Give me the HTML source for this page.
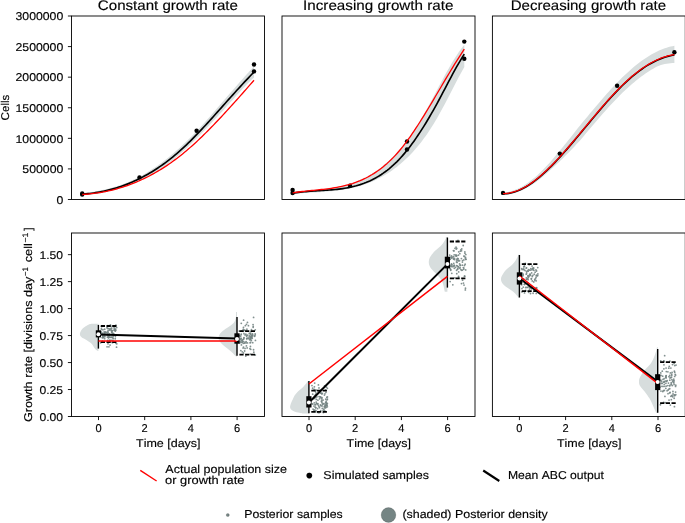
<!DOCTYPE html>
<html><head><meta charset="utf-8"><title>Growth rate ABC figure</title>
<style>
html,body{margin:0;padding:0;background:#fff;}
body{width:685px;height:523px;overflow:hidden;font-family:"Liberation Sans", sans-serif;}
svg{display:block;text-rendering:geometricPrecision;}
</style></head><body>
<svg width="685" height="523" viewBox="0 0 685 523">
<rect width="685" height="523" fill="#fff"/>
<polygon points="82.2,192.96 84.13,192.8 86.06,192.61 87.99,192.4 89.92,192.17 91.85,191.91 93.78,191.63 95.71,191.32 97.64,190.98 99.57,190.62 101.5,190.24 103.43,189.83 105.36,189.39 107.29,188.92 109.22,188.43 111.16,187.91 113.09,187.36 115.02,186.78 116.95,186.18 118.88,185.54 120.81,184.88 122.74,184.18 124.67,183.46 126.6,182.7 128.53,181.92 130.46,181.1 132.39,180.25 134.32,179.37 136.25,178.46 138.18,177.52 140.11,176.51 142.04,175.45 143.97,174.35 145.9,173.22 147.83,172.06 149.76,170.86 151.69,169.62 153.62,168.36 155.55,167.05 157.48,165.71 159.41,164.34 161.34,162.93 163.27,161.48 165.2,159.99 167.13,158.47 169.07,156.91 171,155.32 172.93,153.68 174.86,152.01 176.79,150.34 178.72,148.64 180.65,146.9 182.58,145.12 184.51,143.31 186.44,141.46 188.37,139.57 190.3,137.66 192.23,135.71 194.16,133.73 196.09,131.73 198.02,129.71 199.95,127.66 201.88,125.54 203.81,123.4 205.74,121.25 207.67,119.07 209.6,116.89 211.53,114.69 213.46,112.48 215.39,110.26 217.32,108.03 219.25,105.8 221.18,103.57 223.11,101.33 225.04,99.09 226.98,96.84 228.91,94.6 230.84,92.36 232.77,90.13 234.7,87.91 236.63,85.7 238.56,83.5 240.49,81.31 242.42,79.14 244.35,76.98 246.28,74.81 248.21,72.64 250.14,70.5 252.07,68.38 254,66.28 254,77.48 252.07,79.32 250.14,81.18 248.21,83.07 246.28,84.98 244.35,86.95 242.42,89.03 240.49,91.13 238.56,93.24 236.63,95.36 234.7,97.5 232.77,99.64 230.84,101.8 228.91,103.96 226.98,106.12 225.04,108.29 223.11,110.38 221.18,112.48 219.25,114.57 217.32,116.65 215.39,118.73 213.46,120.8 211.53,122.87 209.6,124.92 207.67,126.96 205.74,128.98 203.81,130.99 201.88,132.98 199.95,134.95 198.02,136.93 196.09,138.89 194.16,140.82 192.23,142.73 190.3,144.61 188.37,146.45 186.44,148.27 184.51,150.05 182.58,151.8 180.65,153.51 178.72,155.18 176.79,156.81 174.86,158.4 172.93,159.92 171,161.4 169.07,162.85 167.13,164.26 165.2,165.63 163.27,166.97 161.34,168.26 159.41,169.53 157.48,170.75 155.55,171.94 153.62,173.09 151.69,174.21 149.76,175.29 147.83,176.34 145.9,177.36 143.97,178.34 142.04,179.29 140.11,180.2 138.18,181.1 136.25,182.01 134.32,182.88 132.39,183.71 130.46,184.52 128.53,185.3 126.6,186.04 124.67,186.75 122.74,187.44 120.81,188.09 118.88,188.71 116.95,189.31 115.02,189.87 113.09,190.41 111.16,190.92 109.22,191.4 107.29,191.85 105.36,192.28 103.43,192.68 101.5,193.05 99.57,193.39 97.64,193.71 95.71,194 93.78,194.27 91.85,194.51 89.92,194.73 87.99,194.92 86.06,195.09 84.13,195.24 82.2,195.36" fill="#d7dddd"/>
<circle cx="82.2" cy="193.4" r="2.2" fill="#000"/>
<circle cx="82.2" cy="194.6" r="2.2" fill="#000"/>
<circle cx="139.5" cy="177.4" r="2.2" fill="#000"/>
<circle cx="196.6" cy="130.7" r="2.2" fill="#000"/>
<circle cx="254" cy="64.5" r="2.2" fill="#000"/>
<circle cx="254" cy="71.4" r="2.2" fill="#000"/>
<polyline points="82.2,194.16 84.13,194.02 86.06,193.85 87.99,193.66 89.92,193.45 91.85,193.21 93.78,192.95 95.71,192.66 97.64,192.35 99.57,192.01 101.5,191.64 103.43,191.25 105.36,190.83 107.29,190.39 109.22,189.91 111.16,189.41 113.09,188.89 115.02,188.33 116.95,187.74 118.88,187.13 120.81,186.48 122.74,185.81 124.67,185.11 126.6,184.37 128.53,183.61 130.46,182.81 132.39,181.98 134.32,181.12 136.25,180.23 138.18,179.31 140.11,178.36 142.04,177.37 143.97,176.34 145.9,175.29 147.83,174.2 149.76,173.08 151.69,171.92 153.62,170.72 155.55,169.5 157.48,168.23 159.41,166.93 161.34,165.6 163.27,164.22 165.2,162.81 167.13,161.37 169.07,159.88 171,158.36 172.93,156.8 174.86,155.2 176.79,153.56 178.72,151.89 180.65,150.17 182.58,148.41 184.51,146.62 186.44,144.79 188.37,142.93 190.3,141.04 192.23,139.12 194.16,137.16 196.09,135.19 198.02,133.18 199.95,131.15 201.88,129.11 203.81,127.04 205.74,124.95 207.67,122.85 209.6,120.73 211.53,118.6 213.46,116.46 215.39,114.32 217.32,112.16 219.25,110 221.18,107.83 223.11,105.66 225.04,103.49 226.98,101.32 228.91,99.16 230.84,97 232.77,94.84 234.7,92.7 236.63,90.56 238.56,88.44 240.49,86.33 242.42,84.23 244.35,82.15 246.28,80.1 248.21,78.06 250.14,76.04 252.07,74.05 254,72.08" fill="none" stroke="#000" stroke-width="1.65" stroke-linejoin="round"/>
<polyline points="82.2,194.51 84.13,194.39 86.06,194.24 87.99,194.08 89.92,193.89 91.85,193.67 93.78,193.44 95.71,193.18 97.64,192.9 99.57,192.6 101.5,192.27 103.43,191.92 105.36,191.55 107.29,191.15 109.22,190.73 111.16,190.28 113.09,189.81 115.02,189.31 116.95,188.78 118.88,188.23 120.81,187.66 122.74,187.06 124.67,186.43 126.6,185.77 128.53,185.09 130.46,184.38 132.39,183.64 134.32,182.88 136.25,182.08 138.18,181.26 140.11,180.41 142.04,179.53 143.97,178.62 145.9,177.68 147.83,176.71 149.76,175.71 151.69,174.69 153.62,173.63 155.55,172.54 157.48,171.42 159.41,170.26 161.34,169.08 163.27,167.86 165.2,166.62 167.13,165.34 169.07,164.02 171,162.68 172.93,161.3 174.86,159.89 176.79,158.44 178.72,156.96 180.65,155.45 182.58,153.9 184.51,152.32 186.44,150.71 188.37,149.06 190.3,147.38 192.23,145.67 194.16,143.92 196.09,142.15 198.02,140.36 199.95,138.53 201.88,136.68 203.81,134.8 205.74,132.9 207.67,130.98 209.6,129.03 211.53,127.07 213.46,125.08 215.39,123.07 217.32,121.04 219.25,119 221.18,116.94 223.11,114.87 225.04,112.77 226.98,110.67 228.91,108.55 230.84,106.42 232.77,104.29 234.7,102.14 236.63,99.98 238.56,97.81 240.49,95.64 242.42,93.46 244.35,91.27 246.28,89.08 248.21,86.89 250.14,84.69 252.07,82.5 254,80.3" fill="none" stroke="#ff0000" stroke-width="1.3" stroke-linejoin="round"/>
<polygon points="292.6,192.29 294.53,192.1 296.46,191.92 298.39,191.75 300.32,191.59 302.25,191.43 304.18,191.27 306.1,191.12 308.03,190.96 309.96,190.8 311.89,190.64 313.82,190.46 315.75,190.28 317.68,190.1 319.61,189.9 321.54,189.68 323.47,189.45 325.4,189.21 327.33,188.95 329.26,188.66 331.18,188.36 333.11,188.03 335.04,187.67 336.97,187.29 338.9,186.88 340.83,186.45 342.76,185.97 344.69,185.47 346.62,184.93 348.55,184.35 350.48,183.73 352.41,183.07 354.33,182.37 356.26,181.63 358.19,180.84 360.12,180 362.05,179.12 363.98,178.18 365.91,177.19 367.84,176.14 369.77,175.04 371.7,173.88 373.63,172.67 375.56,171.39 377.49,170.05 379.41,168.64 381.34,167.16 383.27,165.62 385.2,164.01 387.13,162.33 389.06,160.57 390.99,158.74 392.92,156.83 394.85,154.85 396.78,152.78 398.71,150.63 400.64,148.4 402.57,146.08 404.49,143.68 406.42,141.19 408.35,138.6 410.28,135.93 412.21,133.16 414.14,130.29 416.07,127.33 418,124.27 419.93,121.11 421.86,117.84 423.79,114.49 425.72,111.06 427.64,107.56 429.57,104.01 431.5,100.41 433.43,96.79 435.36,93.15 437.29,89.5 439.22,85.86 441.15,82.24 443.08,78.65 445.01,75.1 446.94,71.61 448.87,68.19 450.8,64.85 452.72,61.6 454.65,58.45 456.58,55.42 458.51,52.52 460.44,49.76 462.37,47.16 464.3,44.72 464.3,66.98 462.37,70.43 460.44,73.97 458.51,77.57 456.58,81.24 454.65,84.95 452.72,88.69 450.8,92.45 448.87,96.2 446.94,99.93 445.01,103.63 443.08,107.27 441.15,110.86 439.22,114.37 437.29,117.78 435.36,121.08 433.43,124.27 431.5,127.35 429.57,130.32 427.64,133.19 425.72,135.95 423.79,138.62 421.86,141.18 419.93,143.65 418,146.03 416.07,148.32 414.14,150.52 412.21,152.64 410.28,154.68 408.35,156.64 406.42,158.52 404.49,160.33 402.57,162.07 400.64,163.74 398.71,165.34 396.78,166.88 394.85,168.36 392.92,169.78 390.99,171.13 389.06,172.43 387.13,173.67 385.2,174.86 383.27,175.99 381.34,177.07 379.41,178.09 377.49,179.07 375.56,180 373.63,180.88 371.7,181.71 369.77,182.51 367.84,183.25 365.91,183.96 363.98,184.63 362.05,185.25 360.12,185.84 358.19,186.4 356.26,186.92 354.33,187.41 352.41,187.86 350.48,188.29 348.55,188.68 346.62,189.05 344.69,189.39 342.76,189.71 340.83,190.01 338.9,190.28 336.97,190.53 335.04,190.77 333.11,190.99 331.18,191.19 329.26,191.37 327.33,191.54 325.4,191.71 323.47,191.86 321.54,192 319.61,192.13 317.68,192.26 315.75,192.38 313.82,192.5 311.89,192.62 309.96,192.74 308.03,192.85 306.1,192.98 304.18,193.1 302.25,193.23 300.32,193.36 298.39,193.51 296.46,193.66 294.53,193.82 292.6,194" fill="#d7dddd"/>
<circle cx="292.6" cy="190" r="2.2" fill="#000"/>
<circle cx="292.6" cy="193" r="2.2" fill="#000"/>
<circle cx="350" cy="185.7" r="2.2" fill="#000"/>
<circle cx="407" cy="141.5" r="2.2" fill="#000"/>
<circle cx="407" cy="149.5" r="2.2" fill="#000"/>
<circle cx="464.3" cy="41.6" r="2.2" fill="#000"/>
<circle cx="464.3" cy="58.7" r="2.2" fill="#000"/>
<polyline points="292.6,193.24 294.53,192.93 296.46,192.65 298.39,192.4 300.32,192.17 302.25,191.96 304.18,191.77 306.1,191.59 308.03,191.43 309.96,191.29 311.89,191.15 313.82,191.02 315.75,190.9 317.68,190.78 319.61,190.66 321.54,190.55 323.47,190.43 325.4,190.3 327.33,190.17 329.26,190.02 331.18,189.87 333.11,189.7 335.04,189.51 336.97,189.31 338.9,189.09 340.83,188.84 342.76,188.57 344.69,188.27 346.62,187.94 348.55,187.58 350.48,187.18 352.41,186.75 354.33,186.28 356.26,185.78 358.19,185.22 360.12,184.63 362.05,183.98 363.98,183.29 365.91,182.54 367.84,181.74 369.77,180.89 371.7,179.98 373.63,179 375.56,177.97 377.49,176.86 379.41,175.7 381.34,174.46 383.27,173.15 385.2,171.77 387.13,170.31 389.06,168.77 390.99,167.15 392.92,165.45 394.85,163.67 396.78,161.8 398.71,159.84 400.64,157.79 402.57,155.64 404.49,153.4 406.42,151.08 408.35,148.66 410.28,146.16 412.21,143.57 414.14,140.9 416.07,138.15 418,135.32 419.93,132.41 421.86,129.42 423.79,126.37 425.72,123.24 427.64,120.04 429.57,116.78 431.5,113.45 433.43,110.06 435.36,106.6 437.29,103.09 439.22,99.51 441.15,95.89 443.08,92.23 445.01,88.55 446.94,84.87 448.87,81.2 450.8,77.55 452.72,73.95 454.65,70.41 456.58,66.94 458.51,63.57 460.44,60.3 462.37,57.15 464.3,54.14" fill="none" stroke="#000" stroke-width="1.65" stroke-linejoin="round"/>
<polyline points="292.6,192.82 294.53,192.53 296.46,192.25 298.39,191.99 300.32,191.75 302.25,191.52 304.18,191.3 306.1,191.09 308.03,190.89 309.96,190.69 311.89,190.5 313.82,190.31 315.75,190.11 317.68,189.92 319.61,189.71 321.54,189.51 323.47,189.29 325.4,189.06 327.33,188.82 329.26,188.56 331.18,188.28 333.11,187.99 335.04,187.67 336.97,187.33 338.9,186.97 340.83,186.57 342.76,186.15 344.69,185.69 346.62,185.2 348.55,184.68 350.48,184.11 352.41,183.51 354.33,182.86 356.26,182.17 358.19,181.43 360.12,180.65 362.05,179.81 363.98,178.92 365.91,177.98 367.84,176.98 369.77,175.92 371.7,174.8 373.63,173.61 375.56,172.36 377.49,171.05 379.41,169.66 381.34,168.21 383.27,166.68 385.2,165.07 387.13,163.39 389.06,161.62 390.99,159.78 392.92,157.85 394.85,155.84 396.78,153.74 398.71,151.55 400.64,149.26 402.57,146.89 404.49,144.42 406.42,141.86 408.35,139.23 410.28,136.52 412.21,133.74 414.14,130.89 416.07,127.98 418,125.01 419.93,121.99 421.86,118.93 423.79,115.82 425.72,112.67 427.64,109.49 429.57,106.28 431.5,103.05 433.43,99.8 435.36,96.54 437.29,93.27 439.22,89.99 441.15,86.71 443.08,83.44 445.01,80.18 446.94,76.94 448.87,73.71 450.8,70.51 452.72,67.34 454.65,64.2 456.58,61.1 458.51,58.04 460.44,55.04 462.37,52.09 464.3,49.19" fill="none" stroke="#ff0000" stroke-width="1.3" stroke-linejoin="round"/>
<polygon points="503,192.54 504.93,192.4 506.85,192.15 508.78,191.79 510.7,191.33 512.63,190.77 514.56,190.12 516.48,189.37 518.41,188.52 520.33,187.58 522.26,186.5 524.18,185.33 526.11,184.08 528.04,182.76 529.96,181.35 531.89,179.87 533.81,178.33 535.74,176.68 537.67,174.92 539.59,173.1 541.52,171.21 543.44,169.27 545.37,167.28 547.29,165.23 549.22,163.13 551.15,160.95 553.07,158.7 555,156.4 556.92,154.07 558.85,151.76 560.78,149.48 562.7,147.17 564.63,144.83 566.55,142.46 568.48,140.07 570.4,137.66 572.33,135.23 574.26,132.79 576.18,130.33 578.11,127.86 580.03,125.39 581.96,123.08 583.89,120.77 585.81,118.46 587.74,116.16 589.66,113.85 591.59,111.55 593.51,109.26 595.44,106.98 597.37,104.72 599.29,102.47 601.22,100.22 603.14,98 605.07,95.8 607,93.62 608.92,91.47 610.85,89.34 612.77,87.25 614.7,85.19 616.62,83.16 618.55,81.18 620.48,79.23 622.4,77.32 624.33,75.46 626.25,73.65 628.18,71.88 630.11,70.16 632.03,68.48 633.96,66.84 635.88,65.26 637.81,63.74 639.73,62.27 641.66,60.86 643.59,59.51 645.51,58.2 647.44,56.94 649.36,55.74 651.29,54.59 653.22,53.51 655.14,52.48 657.07,51.52 658.99,50.62 660.92,49.79 662.84,49.02 664.77,48.31 666.7,47.66 668.62,47.08 670.55,46.57 672.47,46.13 674.4,45.75 674.4,62.95 672.47,63.04 670.55,63.18 668.62,63.4 666.7,63.69 664.77,64.04 662.84,64.45 660.92,64.93 658.99,65.65 657.07,66.6 655.14,67.61 653.22,68.69 651.29,69.82 649.36,71.02 647.44,72.27 645.51,73.59 643.59,74.93 641.66,76.31 639.73,77.74 637.81,79.24 635.88,80.79 633.96,82.39 632.03,84.05 630.11,85.76 628.18,87.46 626.25,89.21 624.33,91.01 622.4,92.85 620.48,94.73 618.55,96.66 616.62,98.63 614.7,100.64 612.77,102.68 610.85,104.75 608.92,106.85 607,108.99 605.07,111.15 603.14,113.33 601.22,115.54 599.29,117.76 597.37,119.99 595.44,122.24 593.51,124.5 591.59,126.77 589.66,129.05 587.74,131.33 585.81,133.62 583.89,135.91 581.96,138.2 580.03,140.49 578.11,142.55 576.18,144.59 574.26,146.63 572.33,148.65 570.4,150.65 568.48,152.64 566.55,154.61 564.63,156.55 562.7,158.47 560.78,160.36 558.85,162.21 556.92,164.04 555,165.82 553.07,167.57 551.15,169.27 549.22,170.99 547.29,172.76 545.37,174.47 543.44,176.14 541.52,177.74 539.59,179.29 537.67,180.78 535.74,182.21 533.81,183.57 531.89,184.86 529.96,186.08 528.04,187.23 526.11,188.3 524.18,189.29 522.26,190.2 520.33,191.03 518.41,191.79 516.48,192.48 514.56,193.07 512.63,193.57 510.7,193.97 508.78,194.27 506.85,194.46 504.93,194.56 503,194.54" fill="#d7dddd"/>
<circle cx="503" cy="192.9" r="2.2" fill="#000"/>
<circle cx="559.8" cy="153.6" r="2.2" fill="#000"/>
<circle cx="617.1" cy="85.8" r="2.2" fill="#000"/>
<circle cx="674.4" cy="52.2" r="2.2" fill="#000"/>
<polyline points="503,193.84 504.93,193.79 506.85,193.63 508.78,193.36 510.7,193 512.63,192.53 514.56,191.97 516.48,191.31 518.41,190.56 520.33,189.72 522.26,188.8 524.18,187.79 526.11,186.7 528.04,185.53 529.96,184.28 531.89,182.96 533.81,181.57 535.74,180.11 537.67,178.59 539.59,177 541.52,175.35 543.44,173.64 545.37,171.88 547.29,170.07 549.22,168.2 551.15,166.29 553.07,164.33 555,162.33 556.92,160.3 558.85,158.22 560.78,156.11 562.7,153.97 564.63,151.8 566.55,149.6 568.48,147.38 570.4,145.14 572.33,142.87 574.26,140.6 576.18,138.31 578.11,136 580.03,133.69 581.96,131.38 583.89,129.06 585.81,126.74 587.74,124.42 589.66,122.11 591.59,119.8 593.51,117.5 595.44,115.21 597.37,112.93 599.29,110.67 601.22,108.42 603.14,106.19 605.07,103.99 607,101.81 608.92,99.65 610.85,97.53 612.77,95.44 614.7,93.37 616.62,91.35 618.55,89.36 620.48,87.41 622.4,85.51 624.33,83.65 626.25,81.83 628.18,80.07 630.11,78.36 632.03,76.7 633.96,75.09 635.88,73.54 637.81,72.05 639.73,70.61 641.66,69.23 643.59,67.9 645.51,66.63 647.44,65.42 649.36,64.27 651.29,63.18 653.22,62.15 655.14,61.18 657.07,60.28 658.99,59.43 660.92,58.64 662.84,57.92 664.77,57.27 666.7,56.67 668.62,56.14 670.55,55.68 672.47,55.28 674.4,54.95" fill="none" stroke="#000" stroke-width="1.65" stroke-linejoin="round"/>
<polyline points="503,193.54 504.93,193.49 506.85,193.33 508.78,193.06 510.7,192.69 512.63,192.23 514.56,191.66 516.48,191 518.41,190.25 520.33,189.41 522.26,188.48 524.18,187.47 526.11,186.37 528.04,185.2 529.96,183.95 531.89,182.63 533.81,181.23 535.74,179.77 537.67,178.24 539.59,176.65 541.52,175 543.44,173.28 545.37,171.52 547.29,169.7 549.22,167.83 551.15,165.92 553.07,163.96 555,161.95 556.92,159.91 558.85,157.83 560.78,155.72 562.7,153.58 564.63,151.4 566.55,149.2 568.48,146.98 570.4,144.73 572.33,142.47 574.26,140.19 576.18,137.9 578.11,135.6 580.03,133.29 581.96,130.97 583.89,128.65 585.81,126.33 587.74,124.02 589.66,121.7 591.59,119.4 593.51,117.1 595.44,114.81 597.37,112.53 599.29,110.27 601.22,108.02 603.14,105.8 605.07,103.6 607,101.42 608.92,99.27 610.85,97.14 612.77,95.05 614.7,92.99 616.62,90.96 618.55,88.98 620.48,87.03 622.4,85.12 624.33,83.26 626.25,81.45 628.18,79.68 630.11,77.97 632.03,76.3 633.96,74.7 635.88,73.14 637.81,71.64 639.73,70.2 641.66,68.82 643.59,67.49 645.51,66.22 647.44,65 649.36,63.85 651.29,62.76 653.22,61.73 655.14,60.75 657.07,59.84 658.99,59 660.92,58.21 662.84,57.49 664.77,56.84 666.7,56.25 668.62,55.72 670.55,55.27 672.47,54.88 674.4,54.55" fill="none" stroke="#ff0000" stroke-width="1.3" stroke-linejoin="round"/>
<path d="M98.4,323.8 L91.5,323.8 C90.88,323.98 89.23,324.15 87.8,324.9 C86.37,325.65 84.12,327.15 82.9,328.3 C81.68,329.45 81,330.77 80.5,331.8 C80,332.83 79.72,333.58 79.9,334.5 C80.08,335.42 80.52,336.38 81.6,337.3 C82.68,338.22 84.92,339.08 86.4,340 C87.88,340.92 89.42,341.88 90.5,342.8 C91.58,343.72 92.22,344.58 92.9,345.5 C93.58,346.42 93.97,347.5 94.6,348.3 C95.23,349.1 96.13,349.85 96.7,350.3 C97.27,350.75 97.78,350.88 98,351 L98.4,351 Z" fill="#d7dddd"/>
<path d="M237,312 L236,312 C235.97,312.98 236.2,316.08 235.8,317.9 C235.4,319.72 235.08,321.23 233.6,322.9 C232.12,324.57 228.68,326.58 226.9,327.9 C225.12,329.22 224.05,329.82 222.9,330.8 C221.75,331.78 220.73,332.63 220,333.8 C219.27,334.97 218.5,336.47 218.5,337.8 C218.5,339.13 219.1,340.48 220,341.8 C220.9,343.12 222.42,344.38 223.9,345.7 C225.38,347.02 227.48,348.53 228.9,349.7 C230.32,350.87 231.33,351.7 232.4,352.7 C233.47,353.7 234.7,355.07 235.3,355.7 C235.9,356.33 235.88,356.37 236,356.5 L237,356.5 Z" fill="#d7dddd"/>
<path d="M308.9,381.5 L307.3,381.5 C307.08,381.88 306.82,382.77 306,383.8 C305.18,384.83 303.78,386.38 302.4,387.7 C301.02,389.02 299,390.38 297.7,391.7 C296.4,393.02 295.43,394.3 294.6,395.6 C293.77,396.9 293.32,398.2 292.7,399.5 C292.08,400.8 291.33,402.23 290.9,403.4 C290.47,404.57 290.13,405.58 290.1,406.5 C290.07,407.42 290.08,408.12 290.7,408.9 C291.32,409.68 292.37,410.55 293.8,411.2 C295.23,411.85 297.85,412.43 299.3,412.8 C300.75,413.17 301.97,413.3 302.5,413.4 L308.9,413.4 Z" fill="#d7dddd"/>
<path d="M447.4,237.2 L445.6,237.2 C445.6,237.48 446.27,237.62 445.6,238.9 C444.93,240.18 443.35,242.92 441.6,244.9 C439.85,246.88 436.98,248.83 435.1,250.8 C433.22,252.77 431.35,254.92 430.3,256.7 C429.25,258.48 428.9,259.92 428.8,261.5 C428.7,263.08 428.95,264.62 429.7,266.2 C430.45,267.78 431.92,269.42 433.3,271 C434.68,272.58 436.62,274.13 438,275.7 C439.38,277.27 440.7,278.82 441.6,280.4 C442.5,281.98 442.9,283.42 443.4,285.2 C443.9,286.98 444.37,290.02 444.6,291.1 C444.83,292.18 444.77,291.6 444.8,291.7 L447.4,291.7 Z" fill="#d7dddd"/>
<path d="M519.4,254.5 L518.6,254.5 C518.5,254.75 518.45,255.1 518,256 C517.55,256.9 516.92,258.42 515.9,259.9 C514.88,261.38 513.57,263.23 511.9,264.9 C510.23,266.57 507.47,268.25 505.9,269.9 C504.33,271.55 503.32,273.32 502.5,274.8 C501.68,276.28 501.08,277.47 501,278.8 C500.92,280.13 501.18,281.48 502,282.8 C502.82,284.12 504.25,285.38 505.9,286.7 C507.55,288.02 510.32,289.53 511.9,290.7 C513.48,291.87 514.33,292.62 515.4,293.7 C516.47,294.78 517.73,296.53 518.3,297.2 C518.87,297.87 518.72,297.62 518.8,297.7 L519.4,297.7 Z" fill="#d7dddd"/>
<path d="M657.7,347 L657,347 C656.88,347.58 656.72,348.98 656.3,350.5 C655.88,352.02 655.38,353.98 654.5,356.1 C653.62,358.22 652.65,360.83 651,363.2 C649.35,365.57 646.45,367.93 644.6,370.3 C642.75,372.67 640.83,375.52 639.9,377.4 C638.97,379.28 639,380.2 639,381.6 C639,383 638.97,384.15 639.9,385.8 C640.83,387.45 642.98,389.37 644.6,391.5 C646.22,393.63 648.3,396.48 649.6,398.6 C650.9,400.72 651.52,402.32 652.4,404.2 C653.28,406.08 654.25,408.48 654.9,409.9 C655.55,411.32 655.98,412.17 656.3,412.7 C656.62,413.23 656.72,413.03 656.8,413.1 L657.7,413.1 Z" fill="#d7dddd"/>
<g fill="#758584" fill-opacity="0.9">
<circle cx="108.17" cy="334.71" r="0.9"/>
<circle cx="103.27" cy="337.33" r="0.9"/>
<circle cx="111.74" cy="330.36" r="0.9"/>
<circle cx="113.64" cy="333.89" r="0.9"/>
<circle cx="110.08" cy="341.74" r="0.9"/>
<circle cx="111.99" cy="342.41" r="0.9"/>
<circle cx="107.01" cy="327.52" r="0.9"/>
<circle cx="101.36" cy="328.86" r="0.9"/>
<circle cx="107.81" cy="325.57" r="0.9"/>
<circle cx="106.7" cy="332.72" r="0.9"/>
<circle cx="110.39" cy="324.81" r="0.9"/>
<circle cx="102.8" cy="333.4" r="0.9"/>
<circle cx="104.33" cy="336.44" r="0.9"/>
<circle cx="113.96" cy="330.34" r="0.9"/>
<circle cx="104.93" cy="336.67" r="0.9"/>
<circle cx="107.33" cy="335.44" r="0.9"/>
<circle cx="115.95" cy="325.07" r="0.9"/>
<circle cx="105.12" cy="334.86" r="0.9"/>
<circle cx="102.98" cy="329.73" r="0.9"/>
<circle cx="112.11" cy="332.36" r="0.9"/>
<circle cx="109.9" cy="330.19" r="0.9"/>
<circle cx="110.63" cy="337.36" r="0.9"/>
<circle cx="101.29" cy="333.01" r="0.9"/>
<circle cx="107.44" cy="328.28" r="0.9"/>
<circle cx="100.67" cy="334.43" r="0.9"/>
<circle cx="104.64" cy="338.67" r="0.9"/>
<circle cx="112.18" cy="330.92" r="0.9"/>
<circle cx="101.61" cy="329.59" r="0.9"/>
<circle cx="105.43" cy="332.07" r="0.9"/>
<circle cx="116.81" cy="343.83" r="0.9"/>
<circle cx="116.53" cy="347.22" r="0.9"/>
<circle cx="108.5" cy="336.59" r="0.9"/>
<circle cx="112.67" cy="342.59" r="0.9"/>
<circle cx="110.98" cy="340.24" r="0.9"/>
<circle cx="108.24" cy="332.1" r="0.9"/>
<circle cx="114.66" cy="326.92" r="0.9"/>
<circle cx="103.43" cy="336.58" r="0.9"/>
<circle cx="114.19" cy="334.81" r="0.9"/>
<circle cx="101.29" cy="331.85" r="0.9"/>
<circle cx="114.82" cy="329.22" r="0.9"/>
<circle cx="111.69" cy="332.33" r="0.9"/>
<circle cx="107.91" cy="333.39" r="0.9"/>
<circle cx="111.61" cy="330.39" r="0.9"/>
<circle cx="108.15" cy="330.41" r="0.9"/>
<circle cx="113.39" cy="333.49" r="0.9"/>
<circle cx="102.46" cy="341.08" r="0.9"/>
<circle cx="108.93" cy="335.64" r="0.9"/>
<circle cx="114.89" cy="330.36" r="0.9"/>
<circle cx="115.81" cy="330.17" r="0.9"/>
<circle cx="104.21" cy="333.11" r="0.9"/>
<circle cx="104.73" cy="329.27" r="0.9"/>
<circle cx="115.43" cy="329.26" r="0.9"/>
<circle cx="106.27" cy="334.29" r="0.9"/>
<circle cx="101.53" cy="326.52" r="0.9"/>
<circle cx="112.32" cy="333.59" r="0.9"/>
<circle cx="107.4" cy="331.91" r="0.9"/>
<circle cx="112.66" cy="337.58" r="0.9"/>
<circle cx="108.42" cy="337.84" r="0.9"/>
<circle cx="108.81" cy="336.91" r="0.9"/>
<circle cx="107.45" cy="337.19" r="0.9"/>
<circle cx="105.36" cy="332.2" r="0.9"/>
<circle cx="115.37" cy="336.52" r="0.9"/>
<circle cx="111.57" cy="331.22" r="0.9"/>
<circle cx="113.54" cy="335.04" r="0.9"/>
<circle cx="115.29" cy="331.19" r="0.9"/>
<circle cx="104.7" cy="332.84" r="0.9"/>
<circle cx="115.69" cy="326.09" r="0.9"/>
<circle cx="114.75" cy="329.73" r="0.9"/>
<circle cx="108.9" cy="346.8" r="0.9"/>
<circle cx="109.91" cy="329.37" r="0.9"/>
<circle cx="102.48" cy="337.36" r="0.9"/>
<circle cx="113.1" cy="336.5" r="0.9"/>
<circle cx="103.44" cy="337.53" r="0.9"/>
<circle cx="109.35" cy="333.8" r="0.9"/>
<circle cx="102.67" cy="335.56" r="0.9"/>
<circle cx="101.8" cy="326.28" r="0.9"/>
<circle cx="110.59" cy="325.89" r="0.9"/>
<circle cx="108.66" cy="328.63" r="0.9"/>
<circle cx="111.67" cy="328.13" r="0.9"/>
<circle cx="113.57" cy="326.78" r="0.9"/>
<circle cx="116.72" cy="327.54" r="0.9"/>
<circle cx="101.98" cy="334.6" r="0.9"/>
<circle cx="110.95" cy="329" r="0.9"/>
<circle cx="110.06" cy="345.09" r="0.9"/>
<circle cx="111.27" cy="337.1" r="0.9"/>
<circle cx="109.51" cy="334.37" r="0.9"/>
<circle cx="109.74" cy="337.34" r="0.9"/>
<circle cx="114.84" cy="329.81" r="0.9"/>
<circle cx="108.01" cy="343.77" r="0.9"/>
<circle cx="109.37" cy="340.23" r="0.9"/>
<circle cx="111.93" cy="337.46" r="0.9"/>
<circle cx="102.07" cy="333.37" r="0.9"/>
<circle cx="107.68" cy="340.38" r="0.9"/>
<circle cx="102.28" cy="337.83" r="0.9"/>
<circle cx="102.86" cy="336.35" r="0.9"/>
<circle cx="100.63" cy="342.87" r="0.9"/>
<circle cx="104.04" cy="336.08" r="0.9"/>
<circle cx="104.15" cy="331.86" r="0.9"/>
<circle cx="109.07" cy="334.88" r="0.9"/>
<circle cx="109.95" cy="328.82" r="0.9"/>
<circle cx="114.11" cy="328.87" r="0.9"/>
<circle cx="108.58" cy="337.51" r="0.9"/>
<circle cx="115.22" cy="338.77" r="0.9"/>
<circle cx="107.08" cy="346.81" r="0.9"/>
<circle cx="112.81" cy="340.33" r="0.9"/>
<circle cx="109.67" cy="334.46" r="0.9"/>
<circle cx="110.83" cy="326.47" r="0.9"/>
<circle cx="105.03" cy="333.79" r="0.9"/>
<circle cx="115.98" cy="343.33" r="0.9"/>
<circle cx="113.22" cy="338.62" r="0.9"/>
<circle cx="255.26" cy="329.78" r="0.9"/>
<circle cx="241.29" cy="338.43" r="0.9"/>
<circle cx="255.28" cy="354.98" r="0.9"/>
<circle cx="245.37" cy="325.67" r="0.9"/>
<circle cx="252.5" cy="333.97" r="0.9"/>
<circle cx="239.32" cy="342.99" r="0.9"/>
<circle cx="246.5" cy="324.36" r="0.9"/>
<circle cx="243.28" cy="343.29" r="0.9"/>
<circle cx="250.59" cy="339.49" r="0.9"/>
<circle cx="250.07" cy="342.8" r="0.9"/>
<circle cx="246.78" cy="338.75" r="0.9"/>
<circle cx="250.79" cy="349.28" r="0.9"/>
<circle cx="255.24" cy="334.92" r="0.9"/>
<circle cx="240.73" cy="339.15" r="0.9"/>
<circle cx="248.43" cy="325.71" r="0.9"/>
<circle cx="250.29" cy="338.94" r="0.9"/>
<circle cx="249.58" cy="336" r="0.9"/>
<circle cx="243.5" cy="352.97" r="0.9"/>
<circle cx="253.55" cy="349.74" r="0.9"/>
<circle cx="243.23" cy="329.33" r="0.9"/>
<circle cx="253.06" cy="324.6" r="0.9"/>
<circle cx="246.92" cy="329.18" r="0.9"/>
<circle cx="241.55" cy="330.85" r="0.9"/>
<circle cx="252.72" cy="342.68" r="0.9"/>
<circle cx="240.48" cy="338.82" r="0.9"/>
<circle cx="252.24" cy="338.24" r="0.9"/>
<circle cx="249.04" cy="337.11" r="0.9"/>
<circle cx="253.58" cy="317.38" r="0.9"/>
<circle cx="252.37" cy="335.66" r="0.9"/>
<circle cx="245.79" cy="356.12" r="0.9"/>
<circle cx="241.42" cy="344.97" r="0.9"/>
<circle cx="243.57" cy="339.31" r="0.9"/>
<circle cx="239.22" cy="331.03" r="0.9"/>
<circle cx="249.92" cy="348.67" r="0.9"/>
<circle cx="240.6" cy="336.61" r="0.9"/>
<circle cx="242.14" cy="340.32" r="0.9"/>
<circle cx="243.22" cy="331.24" r="0.9"/>
<circle cx="245.86" cy="334.23" r="0.9"/>
<circle cx="250.46" cy="334.68" r="0.9"/>
<circle cx="246.49" cy="335.44" r="0.9"/>
<circle cx="247.46" cy="322.42" r="0.9"/>
<circle cx="240.73" cy="341.05" r="0.9"/>
<circle cx="244.75" cy="330.36" r="0.9"/>
<circle cx="242.59" cy="339.87" r="0.9"/>
<circle cx="251.32" cy="340.48" r="0.9"/>
<circle cx="239.49" cy="341.72" r="0.9"/>
<circle cx="249.32" cy="333.42" r="0.9"/>
<circle cx="250.65" cy="333.38" r="0.9"/>
<circle cx="247.48" cy="342.96" r="0.9"/>
<circle cx="239.93" cy="335.62" r="0.9"/>
<circle cx="243.32" cy="330.21" r="0.9"/>
<circle cx="243.1" cy="348.11" r="0.9"/>
<circle cx="243.59" cy="320.18" r="0.9"/>
<circle cx="243.52" cy="347.08" r="0.9"/>
<circle cx="255.15" cy="333.8" r="0.9"/>
<circle cx="252.18" cy="335.53" r="0.9"/>
<circle cx="253.81" cy="352.21" r="0.9"/>
<circle cx="250.9" cy="336.65" r="0.9"/>
<circle cx="244.89" cy="342.11" r="0.9"/>
<circle cx="254.65" cy="336.31" r="0.9"/>
<circle cx="247.15" cy="347.93" r="0.9"/>
<circle cx="242.24" cy="342.38" r="0.9"/>
<circle cx="251.16" cy="337.71" r="0.9"/>
<circle cx="243.45" cy="327.51" r="0.9"/>
<circle cx="252.69" cy="334.97" r="0.9"/>
<circle cx="251.34" cy="337.73" r="0.9"/>
<circle cx="243.96" cy="333.67" r="0.9"/>
<circle cx="246.74" cy="338.56" r="0.9"/>
<circle cx="250.93" cy="331.38" r="0.9"/>
<circle cx="250.16" cy="337.97" r="0.9"/>
<circle cx="247.84" cy="338.05" r="0.9"/>
<circle cx="242.71" cy="341.58" r="0.9"/>
<circle cx="244.52" cy="343.2" r="0.9"/>
<circle cx="250.59" cy="342.45" r="0.9"/>
<circle cx="246.69" cy="336.42" r="0.9"/>
<circle cx="250.97" cy="337.13" r="0.9"/>
<circle cx="250.42" cy="346.48" r="0.9"/>
<circle cx="245.03" cy="334.92" r="0.9"/>
<circle cx="240.83" cy="342.55" r="0.9"/>
<circle cx="250.36" cy="354.21" r="0.9"/>
<circle cx="245.03" cy="348.38" r="0.9"/>
<circle cx="248.47" cy="338.66" r="0.9"/>
<circle cx="241.25" cy="334.03" r="0.9"/>
<circle cx="241.59" cy="340.39" r="0.9"/>
<circle cx="246.15" cy="341.77" r="0.9"/>
<circle cx="250.18" cy="338.44" r="0.9"/>
<circle cx="241.13" cy="334.8" r="0.9"/>
<circle cx="251.9" cy="336.79" r="0.9"/>
<circle cx="253.16" cy="327.36" r="0.9"/>
<circle cx="250.23" cy="333.29" r="0.9"/>
<circle cx="251.49" cy="329.71" r="0.9"/>
<circle cx="243.11" cy="341.53" r="0.9"/>
<circle cx="240.84" cy="350.53" r="0.9"/>
<circle cx="244.6" cy="330.03" r="0.9"/>
<circle cx="241.26" cy="323.32" r="0.9"/>
<circle cx="246.03" cy="342.89" r="0.9"/>
<circle cx="251.68" cy="335.17" r="0.9"/>
<circle cx="243.81" cy="338.18" r="0.9"/>
<circle cx="253.24" cy="326.29" r="0.9"/>
<circle cx="246.63" cy="331.05" r="0.9"/>
<circle cx="241.86" cy="342.07" r="0.9"/>
<circle cx="249.73" cy="339.85" r="0.9"/>
<circle cx="246.39" cy="345.89" r="0.9"/>
<circle cx="244.62" cy="350.98" r="0.9"/>
<circle cx="247.67" cy="335.19" r="0.9"/>
<circle cx="255.45" cy="340.38" r="0.9"/>
<circle cx="251.53" cy="336.85" r="0.9"/>
<circle cx="244.01" cy="337.68" r="0.9"/>
<circle cx="254.41" cy="335.94" r="0.9"/>
<circle cx="242.22" cy="351.87" r="0.9"/>
<circle cx="327.32" cy="399.68" r="0.9"/>
<circle cx="327.36" cy="399.11" r="0.9"/>
<circle cx="318.97" cy="412.79" r="0.9"/>
<circle cx="314.68" cy="383.09" r="0.9"/>
<circle cx="318.37" cy="405.3" r="0.9"/>
<circle cx="325.58" cy="402.29" r="0.9"/>
<circle cx="320.61" cy="393.1" r="0.9"/>
<circle cx="325.87" cy="405.04" r="0.9"/>
<circle cx="325.54" cy="407.97" r="0.9"/>
<circle cx="324.45" cy="407.64" r="0.9"/>
<circle cx="325.6" cy="389.94" r="0.9"/>
<circle cx="319.51" cy="407.67" r="0.9"/>
<circle cx="313.87" cy="398.66" r="0.9"/>
<circle cx="323.88" cy="409.25" r="0.9"/>
<circle cx="327.37" cy="403.36" r="0.9"/>
<circle cx="321.96" cy="389.77" r="0.9"/>
<circle cx="315.15" cy="407.12" r="0.9"/>
<circle cx="326.32" cy="403.27" r="0.9"/>
<circle cx="326.25" cy="401.11" r="0.9"/>
<circle cx="326.26" cy="404.66" r="0.9"/>
<circle cx="321.97" cy="400.61" r="0.9"/>
<circle cx="326.49" cy="387.13" r="0.9"/>
<circle cx="314.92" cy="410.23" r="0.9"/>
<circle cx="320.53" cy="396.86" r="0.9"/>
<circle cx="327.39" cy="396.88" r="0.9"/>
<circle cx="327.42" cy="388.28" r="0.9"/>
<circle cx="324.24" cy="406.34" r="0.9"/>
<circle cx="320.73" cy="410.67" r="0.9"/>
<circle cx="321.39" cy="401.27" r="0.9"/>
<circle cx="317.53" cy="408.67" r="0.9"/>
<circle cx="314.75" cy="397.92" r="0.9"/>
<circle cx="325.8" cy="399.13" r="0.9"/>
<circle cx="320.7" cy="397.36" r="0.9"/>
<circle cx="316.98" cy="396.82" r="0.9"/>
<circle cx="316.47" cy="403.44" r="0.9"/>
<circle cx="313.93" cy="398.2" r="0.9"/>
<circle cx="314.13" cy="389.42" r="0.9"/>
<circle cx="322.05" cy="405.98" r="0.9"/>
<circle cx="315.8" cy="397.42" r="0.9"/>
<circle cx="316.3" cy="399.41" r="0.9"/>
<circle cx="324.96" cy="393.83" r="0.9"/>
<circle cx="312.63" cy="388.26" r="0.9"/>
<circle cx="326.67" cy="405.19" r="0.9"/>
<circle cx="317.91" cy="400.13" r="0.9"/>
<circle cx="324.67" cy="411.23" r="0.9"/>
<circle cx="324.61" cy="385.85" r="0.9"/>
<circle cx="322.29" cy="408.47" r="0.9"/>
<circle cx="311.97" cy="385.61" r="0.9"/>
<circle cx="321.84" cy="393.89" r="0.9"/>
<circle cx="318.42" cy="384.96" r="0.9"/>
<circle cx="316.19" cy="402.11" r="0.9"/>
<circle cx="319.61" cy="398.78" r="0.9"/>
<circle cx="322" cy="397.73" r="0.9"/>
<circle cx="317.5" cy="412.3" r="0.9"/>
<circle cx="317.81" cy="403.74" r="0.9"/>
<circle cx="314.63" cy="410.71" r="0.9"/>
<circle cx="313.83" cy="409.99" r="0.9"/>
<circle cx="321.31" cy="398.11" r="0.9"/>
<circle cx="327.09" cy="405.28" r="0.9"/>
<circle cx="312.71" cy="394.16" r="0.9"/>
<circle cx="321.87" cy="399.07" r="0.9"/>
<circle cx="320.93" cy="405.73" r="0.9"/>
<circle cx="323.36" cy="403.75" r="0.9"/>
<circle cx="316.33" cy="390.16" r="0.9"/>
<circle cx="315.39" cy="390.06" r="0.9"/>
<circle cx="315.81" cy="407.75" r="0.9"/>
<circle cx="324.84" cy="406.37" r="0.9"/>
<circle cx="325.02" cy="405.09" r="0.9"/>
<circle cx="324.43" cy="395.08" r="0.9"/>
<circle cx="315.67" cy="407.62" r="0.9"/>
<circle cx="317.3" cy="403.8" r="0.9"/>
<circle cx="315.86" cy="392.97" r="0.9"/>
<circle cx="322.36" cy="393.46" r="0.9"/>
<circle cx="314.96" cy="404.55" r="0.9"/>
<circle cx="323.29" cy="412.58" r="0.9"/>
<circle cx="324.1" cy="403.83" r="0.9"/>
<circle cx="319.85" cy="396.83" r="0.9"/>
<circle cx="313.96" cy="406.12" r="0.9"/>
<circle cx="315.41" cy="394.78" r="0.9"/>
<circle cx="320.4" cy="404.99" r="0.9"/>
<circle cx="323.16" cy="400.1" r="0.9"/>
<circle cx="314.39" cy="386.79" r="0.9"/>
<circle cx="321.73" cy="402.02" r="0.9"/>
<circle cx="326" cy="402.38" r="0.9"/>
<circle cx="323.11" cy="410.34" r="0.9"/>
<circle cx="325.67" cy="406.23" r="0.9"/>
<circle cx="326.82" cy="397.36" r="0.9"/>
<circle cx="315.6" cy="404.75" r="0.9"/>
<circle cx="314.51" cy="396.18" r="0.9"/>
<circle cx="325.87" cy="405.46" r="0.9"/>
<circle cx="317.49" cy="403.82" r="0.9"/>
<circle cx="312.87" cy="404.06" r="0.9"/>
<circle cx="321.33" cy="393.17" r="0.9"/>
<circle cx="318.95" cy="406.54" r="0.9"/>
<circle cx="314.25" cy="402.83" r="0.9"/>
<circle cx="326.13" cy="407.15" r="0.9"/>
<circle cx="318.97" cy="387.91" r="0.9"/>
<circle cx="327.36" cy="406.78" r="0.9"/>
<circle cx="315.71" cy="411.68" r="0.9"/>
<circle cx="312.08" cy="403.89" r="0.9"/>
<circle cx="325.99" cy="392.37" r="0.9"/>
<circle cx="315.96" cy="410.71" r="0.9"/>
<circle cx="326.25" cy="403.23" r="0.9"/>
<circle cx="319.05" cy="396.59" r="0.9"/>
<circle cx="322.47" cy="404.36" r="0.9"/>
<circle cx="313.01" cy="409.07" r="0.9"/>
<circle cx="315.44" cy="391.46" r="0.9"/>
<circle cx="322.23" cy="403.09" r="0.9"/>
<circle cx="326.72" cy="404.57" r="0.9"/>
<circle cx="324.55" cy="410.71" r="0.9"/>
<circle cx="458.61" cy="277.18" r="0.9"/>
<circle cx="456.58" cy="270.27" r="0.9"/>
<circle cx="452.82" cy="284.86" r="0.9"/>
<circle cx="456.08" cy="255.43" r="0.9"/>
<circle cx="453.99" cy="250.95" r="0.9"/>
<circle cx="458.43" cy="255.17" r="0.9"/>
<circle cx="452.06" cy="264.97" r="0.9"/>
<circle cx="465.96" cy="259.15" r="0.9"/>
<circle cx="463.2" cy="245.48" r="0.9"/>
<circle cx="461.55" cy="250.86" r="0.9"/>
<circle cx="453.71" cy="256.61" r="0.9"/>
<circle cx="465.23" cy="258.06" r="0.9"/>
<circle cx="465.56" cy="257.35" r="0.9"/>
<circle cx="451.53" cy="263.96" r="0.9"/>
<circle cx="453.73" cy="266.5" r="0.9"/>
<circle cx="451.78" cy="273.3" r="0.9"/>
<circle cx="454.42" cy="259.55" r="0.9"/>
<circle cx="462.58" cy="280.14" r="0.9"/>
<circle cx="465.74" cy="259.39" r="0.9"/>
<circle cx="458.31" cy="260.78" r="0.9"/>
<circle cx="456.51" cy="259.98" r="0.9"/>
<circle cx="461.79" cy="270.34" r="0.9"/>
<circle cx="463.75" cy="269.29" r="0.9"/>
<circle cx="457.98" cy="260.46" r="0.9"/>
<circle cx="457.64" cy="258.49" r="0.9"/>
<circle cx="456.24" cy="249.04" r="0.9"/>
<circle cx="456.82" cy="255.67" r="0.9"/>
<circle cx="456.78" cy="248.43" r="0.9"/>
<circle cx="451.5" cy="258.19" r="0.9"/>
<circle cx="464.93" cy="253.34" r="0.9"/>
<circle cx="458.13" cy="266.75" r="0.9"/>
<circle cx="460.89" cy="269.63" r="0.9"/>
<circle cx="457.05" cy="262.42" r="0.9"/>
<circle cx="462.4" cy="262.12" r="0.9"/>
<circle cx="453.26" cy="258.41" r="0.9"/>
<circle cx="463.48" cy="283.06" r="0.9"/>
<circle cx="465.32" cy="289.88" r="0.9"/>
<circle cx="451.74" cy="266.19" r="0.9"/>
<circle cx="456.77" cy="273.67" r="0.9"/>
<circle cx="450.27" cy="259.18" r="0.9"/>
<circle cx="462.32" cy="265.19" r="0.9"/>
<circle cx="458.18" cy="258.88" r="0.9"/>
<circle cx="450.13" cy="281.57" r="0.9"/>
<circle cx="464.46" cy="265.49" r="0.9"/>
<circle cx="464.75" cy="276.16" r="0.9"/>
<circle cx="454.2" cy="265.75" r="0.9"/>
<circle cx="461.74" cy="248.91" r="0.9"/>
<circle cx="450.81" cy="257.21" r="0.9"/>
<circle cx="460.33" cy="265.36" r="0.9"/>
<circle cx="454.76" cy="277.79" r="0.9"/>
<circle cx="450" cy="266.81" r="0.9"/>
<circle cx="454.59" cy="258.4" r="0.9"/>
<circle cx="458.41" cy="266.91" r="0.9"/>
<circle cx="450.17" cy="266.1" r="0.9"/>
<circle cx="464.02" cy="285.07" r="0.9"/>
<circle cx="456.45" cy="265.69" r="0.9"/>
<circle cx="457.99" cy="240.41" r="0.9"/>
<circle cx="465.46" cy="288.22" r="0.9"/>
<circle cx="464.84" cy="251.92" r="0.9"/>
<circle cx="461.39" cy="258.58" r="0.9"/>
<circle cx="461.51" cy="283.58" r="0.9"/>
<circle cx="463.34" cy="267.54" r="0.9"/>
<circle cx="460.01" cy="267.41" r="0.9"/>
<circle cx="459.55" cy="260.77" r="0.9"/>
<circle cx="463.85" cy="259.92" r="0.9"/>
<circle cx="451.68" cy="257.17" r="0.9"/>
<circle cx="465.69" cy="269.93" r="0.9"/>
<circle cx="453.73" cy="259.17" r="0.9"/>
<circle cx="453.43" cy="250.58" r="0.9"/>
<circle cx="459.83" cy="253.69" r="0.9"/>
<circle cx="458.73" cy="251.82" r="0.9"/>
<circle cx="458.56" cy="276.32" r="0.9"/>
<circle cx="463.89" cy="256.05" r="0.9"/>
<circle cx="449.69" cy="255.06" r="0.9"/>
<circle cx="452.09" cy="266.76" r="0.9"/>
<circle cx="452.78" cy="257.12" r="0.9"/>
<circle cx="458.66" cy="271.9" r="0.9"/>
<circle cx="455.52" cy="267.4" r="0.9"/>
<circle cx="460.21" cy="265.2" r="0.9"/>
<circle cx="456.47" cy="261.89" r="0.9"/>
<circle cx="450.02" cy="259.37" r="0.9"/>
<circle cx="462.56" cy="260.61" r="0.9"/>
<circle cx="457.85" cy="268.59" r="0.9"/>
<circle cx="456.03" cy="247.16" r="0.9"/>
<circle cx="454.2" cy="254.82" r="0.9"/>
<circle cx="463.84" cy="268.09" r="0.9"/>
<circle cx="459.86" cy="268.31" r="0.9"/>
<circle cx="451.22" cy="264.62" r="0.9"/>
<circle cx="456.1" cy="256.22" r="0.9"/>
<circle cx="465.84" cy="254.62" r="0.9"/>
<circle cx="453.75" cy="263.28" r="0.9"/>
<circle cx="451.57" cy="255.92" r="0.9"/>
<circle cx="450.72" cy="269.58" r="0.9"/>
<circle cx="450.73" cy="270.26" r="0.9"/>
<circle cx="450.23" cy="268.73" r="0.9"/>
<circle cx="457.27" cy="265.82" r="0.9"/>
<circle cx="464.46" cy="276.2" r="0.9"/>
<circle cx="465.14" cy="264.27" r="0.9"/>
<circle cx="464.46" cy="256.46" r="0.9"/>
<circle cx="455.87" cy="254.95" r="0.9"/>
<circle cx="460.86" cy="249.85" r="0.9"/>
<circle cx="450.58" cy="265.81" r="0.9"/>
<circle cx="462.25" cy="270.1" r="0.9"/>
<circle cx="454.12" cy="265.21" r="0.9"/>
<circle cx="460.37" cy="251.15" r="0.9"/>
<circle cx="454.34" cy="268.36" r="0.9"/>
<circle cx="457.61" cy="269.26" r="0.9"/>
<circle cx="457.15" cy="258.78" r="0.9"/>
<circle cx="459.61" cy="263.93" r="0.9"/>
<circle cx="454.96" cy="248.36" r="0.9"/>
<circle cx="530.15" cy="270.17" r="0.9"/>
<circle cx="534.71" cy="279.31" r="0.9"/>
<circle cx="528.33" cy="284" r="0.9"/>
<circle cx="532.88" cy="275.35" r="0.9"/>
<circle cx="525.74" cy="290.94" r="0.9"/>
<circle cx="527.99" cy="276.74" r="0.9"/>
<circle cx="537.04" cy="275.75" r="0.9"/>
<circle cx="522.7" cy="275.7" r="0.9"/>
<circle cx="536.59" cy="291.22" r="0.9"/>
<circle cx="522.46" cy="273.52" r="0.9"/>
<circle cx="534.91" cy="280.45" r="0.9"/>
<circle cx="527.79" cy="278.71" r="0.9"/>
<circle cx="533.1" cy="293.27" r="0.9"/>
<circle cx="525.39" cy="263.32" r="0.9"/>
<circle cx="524.51" cy="292.97" r="0.9"/>
<circle cx="523.07" cy="274.59" r="0.9"/>
<circle cx="521.73" cy="284.75" r="0.9"/>
<circle cx="527.73" cy="270.97" r="0.9"/>
<circle cx="522.28" cy="282.6" r="0.9"/>
<circle cx="526.23" cy="274.19" r="0.9"/>
<circle cx="535.95" cy="269.96" r="0.9"/>
<circle cx="533.09" cy="269.83" r="0.9"/>
<circle cx="528.47" cy="269.64" r="0.9"/>
<circle cx="521.95" cy="288.54" r="0.9"/>
<circle cx="522.4" cy="276.78" r="0.9"/>
<circle cx="537.88" cy="273.95" r="0.9"/>
<circle cx="528.81" cy="284.95" r="0.9"/>
<circle cx="531.33" cy="278.98" r="0.9"/>
<circle cx="533.73" cy="281.97" r="0.9"/>
<circle cx="531.65" cy="272.91" r="0.9"/>
<circle cx="533.93" cy="270.31" r="0.9"/>
<circle cx="530.8" cy="268.63" r="0.9"/>
<circle cx="529.7" cy="274.4" r="0.9"/>
<circle cx="529.04" cy="275.95" r="0.9"/>
<circle cx="536.17" cy="280.82" r="0.9"/>
<circle cx="537.75" cy="275.57" r="0.9"/>
<circle cx="527.87" cy="275.58" r="0.9"/>
<circle cx="524.99" cy="270.41" r="0.9"/>
<circle cx="536.79" cy="275.42" r="0.9"/>
<circle cx="526.31" cy="279.3" r="0.9"/>
<circle cx="533.39" cy="268.42" r="0.9"/>
<circle cx="525.47" cy="283.43" r="0.9"/>
<circle cx="531.36" cy="288.82" r="0.9"/>
<circle cx="526.8" cy="279.34" r="0.9"/>
<circle cx="522.3" cy="273.51" r="0.9"/>
<circle cx="521.95" cy="291.96" r="0.9"/>
<circle cx="526.55" cy="267.92" r="0.9"/>
<circle cx="529.2" cy="270.08" r="0.9"/>
<circle cx="528.82" cy="283.82" r="0.9"/>
<circle cx="528.83" cy="285.13" r="0.9"/>
<circle cx="529.85" cy="274.94" r="0.9"/>
<circle cx="523.75" cy="266.88" r="0.9"/>
<circle cx="532.27" cy="280.94" r="0.9"/>
<circle cx="534.22" cy="274.23" r="0.9"/>
<circle cx="528.83" cy="286.1" r="0.9"/>
<circle cx="529.22" cy="264.72" r="0.9"/>
<circle cx="523.64" cy="279.02" r="0.9"/>
<circle cx="522.14" cy="269.48" r="0.9"/>
<circle cx="525.63" cy="290.34" r="0.9"/>
<circle cx="528.67" cy="292.26" r="0.9"/>
<circle cx="523.41" cy="279.68" r="0.9"/>
<circle cx="527.45" cy="282.31" r="0.9"/>
<circle cx="529.33" cy="287.35" r="0.9"/>
<circle cx="530.42" cy="287.86" r="0.9"/>
<circle cx="533.63" cy="267.91" r="0.9"/>
<circle cx="530.21" cy="274.17" r="0.9"/>
<circle cx="524.49" cy="284.56" r="0.9"/>
<circle cx="526.65" cy="273" r="0.9"/>
<circle cx="528.76" cy="276.13" r="0.9"/>
<circle cx="530.51" cy="293.48" r="0.9"/>
<circle cx="528.51" cy="277.32" r="0.9"/>
<circle cx="528.06" cy="279.68" r="0.9"/>
<circle cx="536.55" cy="271.01" r="0.9"/>
<circle cx="532.56" cy="268.72" r="0.9"/>
<circle cx="536.8" cy="288.01" r="0.9"/>
<circle cx="524.43" cy="284.14" r="0.9"/>
<circle cx="532.59" cy="268.52" r="0.9"/>
<circle cx="529.44" cy="289.11" r="0.9"/>
<circle cx="526.85" cy="287.47" r="0.9"/>
<circle cx="522.44" cy="274.1" r="0.9"/>
<circle cx="536.17" cy="287.58" r="0.9"/>
<circle cx="521.71" cy="268.65" r="0.9"/>
<circle cx="535.15" cy="272.2" r="0.9"/>
<circle cx="527.66" cy="287.29" r="0.9"/>
<circle cx="535.59" cy="278.68" r="0.9"/>
<circle cx="522.15" cy="275.74" r="0.9"/>
<circle cx="522.34" cy="273.69" r="0.9"/>
<circle cx="528.15" cy="271.16" r="0.9"/>
<circle cx="531.67" cy="269.8" r="0.9"/>
<circle cx="532.29" cy="276.61" r="0.9"/>
<circle cx="526.32" cy="277.86" r="0.9"/>
<circle cx="532.07" cy="266.11" r="0.9"/>
<circle cx="528.23" cy="283.38" r="0.9"/>
<circle cx="524.41" cy="266.43" r="0.9"/>
<circle cx="523.68" cy="268.78" r="0.9"/>
<circle cx="525.63" cy="287.52" r="0.9"/>
<circle cx="536.24" cy="275.3" r="0.9"/>
<circle cx="526.18" cy="268.05" r="0.9"/>
<circle cx="530.68" cy="275.46" r="0.9"/>
<circle cx="523.86" cy="269.69" r="0.9"/>
<circle cx="537.75" cy="267.6" r="0.9"/>
<circle cx="536.28" cy="293.45" r="0.9"/>
<circle cx="524.36" cy="266.05" r="0.9"/>
<circle cx="525.17" cy="283.39" r="0.9"/>
<circle cx="536.04" cy="277.15" r="0.9"/>
<circle cx="526.43" cy="271.32" r="0.9"/>
<circle cx="523.25" cy="287.2" r="0.9"/>
<circle cx="531.41" cy="278.6" r="0.9"/>
<circle cx="524.03" cy="263.56" r="0.9"/>
<circle cx="522.8" cy="275.16" r="0.9"/>
<circle cx="667.84" cy="385.56" r="0.9"/>
<circle cx="660.41" cy="404.75" r="0.9"/>
<circle cx="674.39" cy="371.27" r="0.9"/>
<circle cx="675.79" cy="394.72" r="0.9"/>
<circle cx="672.23" cy="385.51" r="0.9"/>
<circle cx="674.45" cy="394.92" r="0.9"/>
<circle cx="662.68" cy="376.2" r="0.9"/>
<circle cx="665.71" cy="376.88" r="0.9"/>
<circle cx="662.19" cy="383.44" r="0.9"/>
<circle cx="660.76" cy="372.89" r="0.9"/>
<circle cx="666.12" cy="375.55" r="0.9"/>
<circle cx="668.77" cy="368.13" r="0.9"/>
<circle cx="673.05" cy="393.98" r="0.9"/>
<circle cx="674.16" cy="380.88" r="0.9"/>
<circle cx="663.89" cy="368.87" r="0.9"/>
<circle cx="674.17" cy="398.25" r="0.9"/>
<circle cx="674.75" cy="372.31" r="0.9"/>
<circle cx="669.96" cy="361.07" r="0.9"/>
<circle cx="672.77" cy="381.27" r="0.9"/>
<circle cx="675.58" cy="386.39" r="0.9"/>
<circle cx="668.44" cy="383.09" r="0.9"/>
<circle cx="661.87" cy="386.34" r="0.9"/>
<circle cx="663.01" cy="379.45" r="0.9"/>
<circle cx="669.65" cy="392.92" r="0.9"/>
<circle cx="671.1" cy="384.59" r="0.9"/>
<circle cx="666.31" cy="371.55" r="0.9"/>
<circle cx="664.94" cy="396.39" r="0.9"/>
<circle cx="672.54" cy="364.62" r="0.9"/>
<circle cx="671.5" cy="377.33" r="0.9"/>
<circle cx="674.09" cy="384.55" r="0.9"/>
<circle cx="670.36" cy="405.04" r="0.9"/>
<circle cx="670.88" cy="377.5" r="0.9"/>
<circle cx="667.88" cy="371.78" r="0.9"/>
<circle cx="666.28" cy="386.09" r="0.9"/>
<circle cx="670.08" cy="392.38" r="0.9"/>
<circle cx="669.77" cy="375.5" r="0.9"/>
<circle cx="663.52" cy="382.22" r="0.9"/>
<circle cx="665.82" cy="388.33" r="0.9"/>
<circle cx="661.36" cy="383.28" r="0.9"/>
<circle cx="670.86" cy="396.34" r="0.9"/>
<circle cx="662.27" cy="371.17" r="0.9"/>
<circle cx="668.04" cy="393.72" r="0.9"/>
<circle cx="676.03" cy="365.11" r="0.9"/>
<circle cx="674.72" cy="376.47" r="0.9"/>
<circle cx="671.99" cy="395.38" r="0.9"/>
<circle cx="673.31" cy="382.37" r="0.9"/>
<circle cx="671.32" cy="399.63" r="0.9"/>
<circle cx="675.78" cy="385.22" r="0.9"/>
<circle cx="662.8" cy="391.48" r="0.9"/>
<circle cx="670.35" cy="372.91" r="0.9"/>
<circle cx="666.48" cy="381.47" r="0.9"/>
<circle cx="665.96" cy="380.93" r="0.9"/>
<circle cx="675.67" cy="375.07" r="0.9"/>
<circle cx="673.38" cy="380.55" r="0.9"/>
<circle cx="664.79" cy="386.28" r="0.9"/>
<circle cx="669.02" cy="400.11" r="0.9"/>
<circle cx="671.22" cy="382.6" r="0.9"/>
<circle cx="669.26" cy="366.45" r="0.9"/>
<circle cx="666.03" cy="377.93" r="0.9"/>
<circle cx="661.02" cy="375.47" r="0.9"/>
<circle cx="671.64" cy="374.15" r="0.9"/>
<circle cx="671.9" cy="379.67" r="0.9"/>
<circle cx="666.12" cy="376" r="0.9"/>
<circle cx="660.96" cy="391.08" r="0.9"/>
<circle cx="660.89" cy="380.17" r="0.9"/>
<circle cx="671.63" cy="395.96" r="0.9"/>
<circle cx="671.75" cy="375.49" r="0.9"/>
<circle cx="674.44" cy="406.71" r="0.9"/>
<circle cx="666.06" cy="368.06" r="0.9"/>
<circle cx="669.68" cy="385.47" r="0.9"/>
<circle cx="670.86" cy="368.06" r="0.9"/>
<circle cx="672.08" cy="372.38" r="0.9"/>
<circle cx="675.59" cy="392.03" r="0.9"/>
<circle cx="665.92" cy="383.33" r="0.9"/>
<circle cx="669.99" cy="377.98" r="0.9"/>
<circle cx="674.08" cy="363.46" r="0.9"/>
<circle cx="674.24" cy="395.49" r="0.9"/>
<circle cx="663.1" cy="386.42" r="0.9"/>
<circle cx="663.88" cy="360.89" r="0.9"/>
<circle cx="665.87" cy="377.42" r="0.9"/>
<circle cx="664.21" cy="381.93" r="0.9"/>
<circle cx="663.68" cy="361.19" r="0.9"/>
<circle cx="674.8" cy="365.54" r="0.9"/>
<circle cx="669.77" cy="385.83" r="0.9"/>
<circle cx="672.73" cy="396.76" r="0.9"/>
<circle cx="668.91" cy="376.64" r="0.9"/>
<circle cx="660.74" cy="360.9" r="0.9"/>
<circle cx="667.21" cy="380.65" r="0.9"/>
<circle cx="663.48" cy="390.7" r="0.9"/>
<circle cx="664.38" cy="390.46" r="0.9"/>
<circle cx="672.95" cy="391.52" r="0.9"/>
<circle cx="667.09" cy="390.75" r="0.9"/>
<circle cx="669.72" cy="388.63" r="0.9"/>
<circle cx="663.96" cy="364.82" r="0.9"/>
<circle cx="660" cy="387.05" r="0.9"/>
<circle cx="663.63" cy="402.3" r="0.9"/>
<circle cx="661.59" cy="381.43" r="0.9"/>
<circle cx="675.19" cy="374.33" r="0.9"/>
<circle cx="674.92" cy="395.48" r="0.9"/>
<circle cx="668.15" cy="390.02" r="0.9"/>
<circle cx="673.93" cy="382.89" r="0.9"/>
<circle cx="664.66" cy="355.71" r="0.9"/>
<circle cx="673.78" cy="379.26" r="0.9"/>
<circle cx="664.09" cy="378.73" r="0.9"/>
<circle cx="668.91" cy="389.03" r="0.9"/>
<circle cx="665.17" cy="402.65" r="0.9"/>
<circle cx="664.66" cy="381.49" r="0.9"/>
<circle cx="669.83" cy="380.14" r="0.9"/>
<circle cx="664.23" cy="384.28" r="0.9"/>
<circle cx="671.26" cy="383.82" r="0.9"/>
</g>
<line x1="100.8" y1="326" x2="116.8" y2="326" stroke="#000" stroke-width="1.8" stroke-dasharray="4.2,1.5"/>
<line x1="100.8" y1="342.1" x2="116.8" y2="342.1" stroke="#000" stroke-width="1.8" stroke-dasharray="4.2,1.5"/>
<line x1="239.4" y1="331.2" x2="255.4" y2="331.2" stroke="#000" stroke-width="1.8" stroke-dasharray="4.2,1.5"/>
<line x1="239.4" y1="354.6" x2="255.4" y2="354.6" stroke="#000" stroke-width="1.8" stroke-dasharray="4.2,1.5"/>
<line x1="311.3" y1="390.7" x2="327.3" y2="390.7" stroke="#000" stroke-width="1.8" stroke-dasharray="4.2,1.5"/>
<line x1="311.3" y1="411.8" x2="327.3" y2="411.8" stroke="#000" stroke-width="1.8" stroke-dasharray="4.2,1.5"/>
<line x1="449.8" y1="241.5" x2="465.8" y2="241.5" stroke="#000" stroke-width="1.8" stroke-dasharray="4.2,1.5"/>
<line x1="449.8" y1="278.3" x2="465.8" y2="278.3" stroke="#000" stroke-width="1.8" stroke-dasharray="4.2,1.5"/>
<line x1="521.8" y1="264.2" x2="537.8" y2="264.2" stroke="#000" stroke-width="1.8" stroke-dasharray="4.2,1.5"/>
<line x1="521.8" y1="291.1" x2="537.8" y2="291.1" stroke="#000" stroke-width="1.8" stroke-dasharray="4.2,1.5"/>
<line x1="660.1" y1="362.1" x2="676.1" y2="362.1" stroke="#000" stroke-width="1.8" stroke-dasharray="4.2,1.5"/>
<line x1="660.1" y1="403.2" x2="676.1" y2="403.2" stroke="#000" stroke-width="1.8" stroke-dasharray="4.2,1.5"/>
<line x1="98.4" y1="324.9" x2="98.4" y2="348.6" stroke="#000" stroke-width="1.4"/>
<rect x="95.8" y="330.3" width="5.2" height="7.1" fill="#000"/>
<line x1="237" y1="316.9" x2="237" y2="355.7" stroke="#000" stroke-width="1.4"/>
<rect x="234.4" y="333.3" width="5.2" height="10.4" fill="#000"/>
<line x1="308.9" y1="381.1" x2="308.9" y2="413.2" stroke="#000" stroke-width="1.4"/>
<rect x="306.3" y="396.2" width="5.2" height="11.3" fill="#000"/>
<line x1="447.4" y1="237.5" x2="447.4" y2="287.6" stroke="#000" stroke-width="1.4"/>
<rect x="444.8" y="256.7" width="5.2" height="11.7" fill="#000"/>
<line x1="519.4" y1="255" x2="519.4" y2="297.5" stroke="#000" stroke-width="1.4"/>
<rect x="516.8" y="272.3" width="5.2" height="12.3" fill="#000"/>
<line x1="657.7" y1="349" x2="657.7" y2="412.7" stroke="#000" stroke-width="1.4"/>
<rect x="655.1" y="374.2" width="5.2" height="15.9" fill="#000"/>
<line x1="98.6" y1="334.6" x2="237" y2="338.6" stroke="#000" stroke-width="2.0"/>
<line x1="98.4" y1="341" x2="237" y2="341" stroke="#ff0000" stroke-width="1.5"/>
<line x1="308.9" y1="402.5" x2="447.4" y2="264.1" stroke="#000" stroke-width="2.0"/>
<line x1="308.9" y1="384" x2="447.4" y2="276.3" stroke="#ff0000" stroke-width="1.5"/>
<line x1="519.4" y1="278.3" x2="657.7" y2="381.6" stroke="#000" stroke-width="2.0"/>
<line x1="519.4" y1="276" x2="657.7" y2="383.3" stroke="#ff0000" stroke-width="1.5"/>
<circle cx="98.4" cy="334.3" r="2.0" fill="#fff"/>
<circle cx="237" cy="339" r="2.0" fill="#fff"/>
<circle cx="308.9" cy="402.5" r="2.0" fill="#fff"/>
<circle cx="447.4" cy="264.1" r="2.0" fill="#fff"/>
<circle cx="519.4" cy="278.5" r="2.0" fill="#fff"/>
<circle cx="657.7" cy="382" r="2.0" fill="#fff"/>
<rect x="71.5" y="16" width="193" height="183.5" fill="none" stroke="#000" stroke-width="0.9"/>
<rect x="282" y="16" width="193" height="183.5" fill="none" stroke="#000" stroke-width="0.9"/>
<rect x="492.4" y="16" width="192.85" height="183.5" fill="none" stroke="#000" stroke-width="0.9"/>
<rect x="71.5" y="233" width="193" height="183.5" fill="none" stroke="#000" stroke-width="0.9"/>
<rect x="282" y="233" width="193" height="183.5" fill="none" stroke="#000" stroke-width="0.9"/>
<rect x="492.4" y="233" width="192.85" height="183.5" fill="none" stroke="#000" stroke-width="0.9"/>
<line x1="67.9" y1="199.5" x2="71.5" y2="199.5" stroke="#000" stroke-width="0.9"/>
<line x1="67.9" y1="168.92" x2="71.5" y2="168.92" stroke="#000" stroke-width="0.9"/>
<line x1="67.9" y1="138.33" x2="71.5" y2="138.33" stroke="#000" stroke-width="0.9"/>
<line x1="67.9" y1="107.75" x2="71.5" y2="107.75" stroke="#000" stroke-width="0.9"/>
<line x1="67.9" y1="77.17" x2="71.5" y2="77.17" stroke="#000" stroke-width="0.9"/>
<line x1="67.9" y1="46.58" x2="71.5" y2="46.58" stroke="#000" stroke-width="0.9"/>
<line x1="67.9" y1="16" x2="71.5" y2="16" stroke="#000" stroke-width="0.9"/>
<line x1="67.9" y1="416.5" x2="71.5" y2="416.5" stroke="#000" stroke-width="0.9"/>
<line x1="67.9" y1="389.52" x2="71.5" y2="389.52" stroke="#000" stroke-width="0.9"/>
<line x1="67.9" y1="362.55" x2="71.5" y2="362.55" stroke="#000" stroke-width="0.9"/>
<line x1="67.9" y1="335.57" x2="71.5" y2="335.57" stroke="#000" stroke-width="0.9"/>
<line x1="67.9" y1="308.6" x2="71.5" y2="308.6" stroke="#000" stroke-width="0.9"/>
<line x1="67.9" y1="281.62" x2="71.5" y2="281.62" stroke="#000" stroke-width="0.9"/>
<line x1="67.9" y1="254.65" x2="71.5" y2="254.65" stroke="#000" stroke-width="0.9"/>
<line x1="98.5" y1="416.5" x2="98.5" y2="420.1" stroke="#000" stroke-width="0.9"/>
<line x1="144.7" y1="416.5" x2="144.7" y2="420.1" stroke="#000" stroke-width="0.9"/>
<line x1="190.9" y1="416.5" x2="190.9" y2="420.1" stroke="#000" stroke-width="0.9"/>
<line x1="237.1" y1="416.5" x2="237.1" y2="420.1" stroke="#000" stroke-width="0.9"/>
<line x1="309" y1="416.5" x2="309" y2="420.1" stroke="#000" stroke-width="0.9"/>
<line x1="355.2" y1="416.5" x2="355.2" y2="420.1" stroke="#000" stroke-width="0.9"/>
<line x1="401.4" y1="416.5" x2="401.4" y2="420.1" stroke="#000" stroke-width="0.9"/>
<line x1="447.6" y1="416.5" x2="447.6" y2="420.1" stroke="#000" stroke-width="0.9"/>
<line x1="519.4" y1="416.5" x2="519.4" y2="420.1" stroke="#000" stroke-width="0.9"/>
<line x1="565.6" y1="416.5" x2="565.6" y2="420.1" stroke="#000" stroke-width="0.9"/>
<line x1="611.8" y1="416.5" x2="611.8" y2="420.1" stroke="#000" stroke-width="0.9"/>
<line x1="658" y1="416.5" x2="658" y2="420.1" stroke="#000" stroke-width="0.9"/>
<g font-family='"Liberation Sans", sans-serif' style="font-kerning:none" opacity="0.999" stroke="#000" stroke-width="0.15">
<text x="97.83" y="9.5" font-size="13.9" textLength="140.14" lengthAdjust="spacingAndGlyphs" fill="#000">Constant growth rate</text>
<text x="303.1" y="9.5" font-size="13.9" textLength="150.28" lengthAdjust="spacingAndGlyphs" fill="#000">Increasing growth rate</text>
<text x="510.67" y="9.5" font-size="13.9" textLength="155.5" lengthAdjust="spacingAndGlyphs" fill="#000">Decreasing growth rate</text>
<text x="56.46" y="203.8" font-size="11.3" textLength="6.82" lengthAdjust="spacingAndGlyphs" fill="#000">0</text>
<text x="22.35" y="173.22" font-size="11.3" textLength="40.93" lengthAdjust="spacingAndGlyphs" fill="#000">500000</text>
<text x="15.53" y="142.63" font-size="11.3" textLength="47.75" lengthAdjust="spacingAndGlyphs" fill="#000">1000000</text>
<text x="15.53" y="112.05" font-size="11.3" textLength="47.75" lengthAdjust="spacingAndGlyphs" fill="#000">1500000</text>
<text x="15.53" y="81.47" font-size="11.3" textLength="47.75" lengthAdjust="spacingAndGlyphs" fill="#000">2000000</text>
<text x="15.53" y="50.88" font-size="11.3" textLength="47.75" lengthAdjust="spacingAndGlyphs" fill="#000">2500000</text>
<text x="15.53" y="20.3" font-size="11.3" textLength="47.75" lengthAdjust="spacingAndGlyphs" fill="#000">3000000</text>
<text x="39.48" y="420.8" font-size="11.3" textLength="23.6" lengthAdjust="spacingAndGlyphs" fill="#000">0.00</text>
<text x="39.51" y="393.82" font-size="11.3" textLength="23.6" lengthAdjust="spacingAndGlyphs" fill="#000">0.25</text>
<text x="39.48" y="366.85" font-size="11.3" textLength="23.6" lengthAdjust="spacingAndGlyphs" fill="#000">0.50</text>
<text x="39.51" y="339.88" font-size="11.3" textLength="23.6" lengthAdjust="spacingAndGlyphs" fill="#000">0.75</text>
<text x="39.48" y="312.9" font-size="11.3" textLength="23.6" lengthAdjust="spacingAndGlyphs" fill="#000">1.00</text>
<text x="39.51" y="285.93" font-size="11.3" textLength="23.6" lengthAdjust="spacingAndGlyphs" fill="#000">1.25</text>
<text x="39.48" y="258.95" font-size="11.3" textLength="23.6" lengthAdjust="spacingAndGlyphs" fill="#000">1.50</text>
<text x="95.42" y="432.3" font-size="11.3" textLength="6.17" lengthAdjust="spacingAndGlyphs" fill="#000">0</text>
<text x="141.62" y="432.3" font-size="11.3" textLength="6.17" lengthAdjust="spacingAndGlyphs" fill="#000">2</text>
<text x="187.85" y="432.3" font-size="11.3" textLength="6.17" lengthAdjust="spacingAndGlyphs" fill="#000">4</text>
<text x="233.98" y="432.3" font-size="11.3" textLength="6.17" lengthAdjust="spacingAndGlyphs" fill="#000">6</text>
<text x="136.02" y="446.9" font-size="11.3" textLength="64.57" lengthAdjust="spacingAndGlyphs" fill="#000">Time [days]</text>
<text x="305.92" y="432.3" font-size="11.3" textLength="6.17" lengthAdjust="spacingAndGlyphs" fill="#000">0</text>
<text x="352.12" y="432.3" font-size="11.3" textLength="6.17" lengthAdjust="spacingAndGlyphs" fill="#000">2</text>
<text x="398.35" y="432.3" font-size="11.3" textLength="6.17" lengthAdjust="spacingAndGlyphs" fill="#000">4</text>
<text x="444.48" y="432.3" font-size="11.3" textLength="6.17" lengthAdjust="spacingAndGlyphs" fill="#000">6</text>
<text x="346.52" y="446.9" font-size="11.3" textLength="64.57" lengthAdjust="spacingAndGlyphs" fill="#000">Time [days]</text>
<text x="516.32" y="432.3" font-size="11.3" textLength="6.17" lengthAdjust="spacingAndGlyphs" fill="#000">0</text>
<text x="562.52" y="432.3" font-size="11.3" textLength="6.17" lengthAdjust="spacingAndGlyphs" fill="#000">2</text>
<text x="608.75" y="432.3" font-size="11.3" textLength="6.17" lengthAdjust="spacingAndGlyphs" fill="#000">4</text>
<text x="654.88" y="432.3" font-size="11.3" textLength="6.17" lengthAdjust="spacingAndGlyphs" fill="#000">6</text>
<text x="556.92" y="446.9" font-size="11.3" textLength="64.57" lengthAdjust="spacingAndGlyphs" fill="#000">Time [days]</text>
<text transform="translate(8.9,119.8) rotate(-90)" x="-0.59" y="0" font-size="11.3" textLength="25.71" lengthAdjust="spacingAndGlyphs" fill="#000">Cells</text>
<text transform="translate(31.6,421.5) rotate(-90)" x="-0.64" y="0" font-size="11.3" textLength="145.56" lengthAdjust="spacingAndGlyphs" fill="#000">Growth rate [divisions day</text>
<text transform="translate(27.7,275.6) rotate(-90)" x="-0.39" y="0" font-size="8" textLength="8.97" lengthAdjust="spacingAndGlyphs" fill="#000">−1</text>
<text transform="translate(31.6,261.8) rotate(-90)" x="-0.54" y="0" font-size="11.3" textLength="19.2" lengthAdjust="spacingAndGlyphs" fill="#000">cell</text>
<text transform="translate(27.7,242.1) rotate(-90)" x="-0.44" y="0" font-size="8" textLength="10.07" lengthAdjust="spacingAndGlyphs" fill="#000">−1</text>
<text transform="translate(31.6,230.6) rotate(-90)" x="-0.09" y="0" font-size="11.3" textLength="3.36" lengthAdjust="spacingAndGlyphs" fill="#000">]</text>
<line x1="140.3" y1="470.3" x2="156.6" y2="481.0" stroke="#ff0000" stroke-width="1.4"/>
<text x="165.38" y="473.1" font-size="11.5" textLength="121.68" lengthAdjust="spacingAndGlyphs" fill="#000">Actual population size</text>
<text x="165.06" y="484.2" font-size="11.5" textLength="79.31" lengthAdjust="spacingAndGlyphs" fill="#000">or growth rate</text>
<circle cx="309.3" cy="475.6" r="2.8" fill="#000"/>
<text x="323.33" y="478.9" font-size="11.5" textLength="105.62" lengthAdjust="spacingAndGlyphs" fill="#000">Simulated samples</text>
<line x1="483.2" y1="470.5" x2="499.3" y2="481.0" stroke="#000" stroke-width="2.1"/>
<text x="507.9" y="478.9" font-size="11.5" textLength="95.99" lengthAdjust="spacingAndGlyphs" fill="#000">Mean ABC output</text>
<circle cx="227.8" cy="515.0" r="1.6" fill="#758584"/>
<text x="244.19" y="518.3" font-size="11.5" textLength="98.56" lengthAdjust="spacingAndGlyphs" fill="#000">Posterior samples</text>
<circle cx="388.5" cy="515.0" r="7.4" fill="#758584"/>
<text x="402.43" y="518.2" font-size="11.5" textLength="145.2" lengthAdjust="spacingAndGlyphs" fill="#000">(shaded) Posterior density</text>
</g>
</svg>
</body></html>
